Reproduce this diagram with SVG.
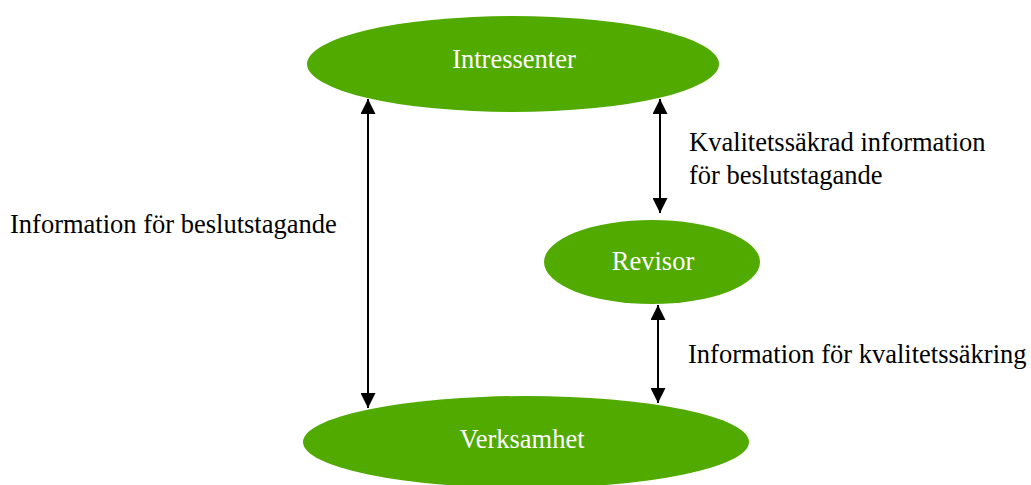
<svg xmlns="http://www.w3.org/2000/svg" width="1031" height="485" viewBox="0 0 1031 485">
<style>
.node{fill:#50AA00;}
.nt{font-family:"Liberation Serif","Times New Roman",serif;font-size:26.5px;fill:#ffffff;text-anchor:middle;}
.lbl{font-family:"Liberation Serif","Times New Roman",serif;font-size:26.5px;fill:#000000;}
.conn{stroke:#000;stroke-width:2;fill:none;marker-start:url(#ah);marker-end:url(#ah);}
</style>
<defs>
<marker id="ah" viewBox="0 0 16 15" refX="15" refY="7.5" markerWidth="16" markerHeight="15" markerUnits="userSpaceOnUse" orient="auto-start-reverse">
<path d="M0,0 L15,7.5 L0,15 Z" fill="#000"/>
</marker>
</defs>
<rect width="1031" height="485" fill="#fff"/>
<g id="intressenter">
<ellipse class="node" cx="513" cy="64" rx="206" ry="48"/>
<text class="nt" x="514" y="68">Intressenter</text>
</g>
<g id="revisor">
<ellipse class="node" cx="652" cy="262" rx="108" ry="42"/>
<text class="nt" x="653" y="270">Revisor</text>
</g>
<g id="verksamhet">
<ellipse class="node" cx="526" cy="442" rx="223" ry="46"/>
<text class="nt" x="522" y="448">Verksamhet</text>
</g>
<g id="connectors">
<line class="conn" x1="368" y1="99" x2="368" y2="408"/>
<line class="conn" x1="660" y1="99" x2="660" y2="213"/>
<line class="conn" x1="658" y1="305" x2="658" y2="403"/>
</g>
<g id="labels">
<text class="lbl" x="689" y="151">Kvalitetssäkrad information</text>
<text class="lbl" x="689" y="184">för beslutstagande</text>
<text class="lbl" x="10" y="233">Information för beslutstagande</text>
<text class="lbl" x="688" y="363">Information för kvalitetssäkring</text>
</g>
</svg>
